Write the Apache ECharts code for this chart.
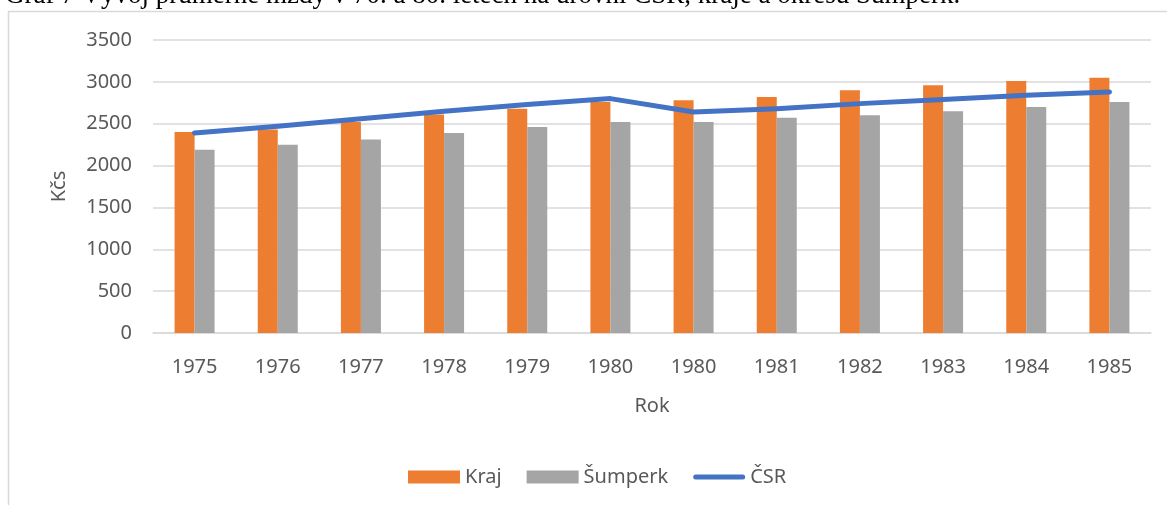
<!DOCTYPE html>
<html>
<head>
<meta charset="utf-8">
<script src="https://cdn.jsdelivr.net/npm/echarts@6/dist/echarts.min.js"></script>
<style>
  html, body { margin: 0; padding: 0; background: #fff; }
  #chart { width: 1167px; height: 505px; }
</style>
</head>
<body>
<div id="chart"></div>
<script>
// hodnoty
const years = ['1975', '1976', '1977', '1978', '1979', '1980', '1980', '1981', '1982', '1983', '1984', '1985']
const kraj = [2400, 2430, 2520, 2610, 2680, 2760, 2780, 2820, 2900, 2960, 3010, 3050]
const sumperk = [2190, 2250, 2310, 2390, 2460, 2520, 2520, 2570, 2600, 2650, 2700, 2760]
const csr = [2390, 2470, 2560, 2650, 2730, 2800, 2640, 2680, 2740, 2790, 2840, 2880]
const titleText = 'Graf 7 Vývoj průměrné mzdy v 70. a 80. letech na úrovni ČSR, kraje a okresu Šumperk.'

const font = 'Noto Sans'
const textColor = '#595959'
const gridColor = '#D9D9D9'

// tenka zaoblena cara pro legendu (ramecek 52x13)
const lineIcon = 'path://M0,0L0.01,0M52,13L51.99,13M2.5,4L49.5,4A2.5,2.5,0,0,1,49.5,9L2.5,9A2.5,2.5,0,0,1,2.5,4Z'

const chart = echarts.init(document.getElementById('chart'))
const option = {
  animation: false,
  textStyle: { fontFamily: font },
  graphic: [
    {
      type: 'rect', z: -10, silent: true,
      shape: { x: 8.5, y: 11.5, width: 1300, height: 700 },
      style: { fill: '#fff', stroke: gridColor, lineWidth: 1.5 }
    },
    {
      type: 'text', x: 5, y: 9,
      style: {
        text: titleText, font: '27px "Liberation Serif"', fill: '#000',
        align: 'left', verticalAlign: 'bottom'
      }
    }
  ],
  grid: { left: 153, right: 16, top: 40, bottom: 172 },
  legend: {
    left: 403, top: 462,
    itemWidth: 52, itemHeight: 13, itemGap: 25,
    symbolKeepAspect: false,
    textStyle: { fontFamily: font, fontSize: 20, color: textColor },
    data: [
      { name: 'Kraj', icon: 'rect' },
      { name: 'Šumperk', icon: 'rect' },
      { name: 'ČSR', icon: lineIcon, itemStyle: { color: '#4472C4' } }
    ]
  },
  xAxis: {
    type: 'category',
    data: years,
    name: 'Rok',
    nameLocation: 'middle',
    nameGap: 63,
    nameTextStyle: { fontFamily: font, fontSize: 20, color: textColor },
    axisLine: { lineStyle: { color: gridColor, width: 1.5 } },
    axisTick: { show: false },
    axisLabel: { fontFamily: font, fontSize: 20, color: textColor, margin: 24 }
  },
  yAxis: {
    type: 'value',
    min: 0, max: 3500, interval: 500,
    name: 'Kčs',
    nameLocation: 'middle',
    nameGap: 84,
    nameTextStyle: { fontFamily: font, fontSize: 20, color: textColor },
    axisLabel: {
      fontFamily: font, fontSize: 20, color: textColor, margin: 21,
      formatter: (v) => String(v)
    },
    splitLine: { lineStyle: { color: gridColor, width: 1.5 } }
  },
  series: [
    {
      name: 'Kraj', type: 'bar', data: kraj,
      barWidth: 20, barGap: '0%',
      itemStyle: { color: '#ED7D31' }
    },
    {
      name: 'Šumperk', type: 'bar', data: sumperk,
      barWidth: 20,
      itemStyle: { color: '#A5A5A5' }
    },
    {
      name: 'ČSR', type: 'line', data: csr,
      symbol: 'none',
      lineStyle: { color: '#4472C4', width: 5, cap: 'round', join: 'round' },
      itemStyle: { color: '#4472C4' }
    }
  ]
}
chart.setOption(option)
</script>
</body>
</html>
